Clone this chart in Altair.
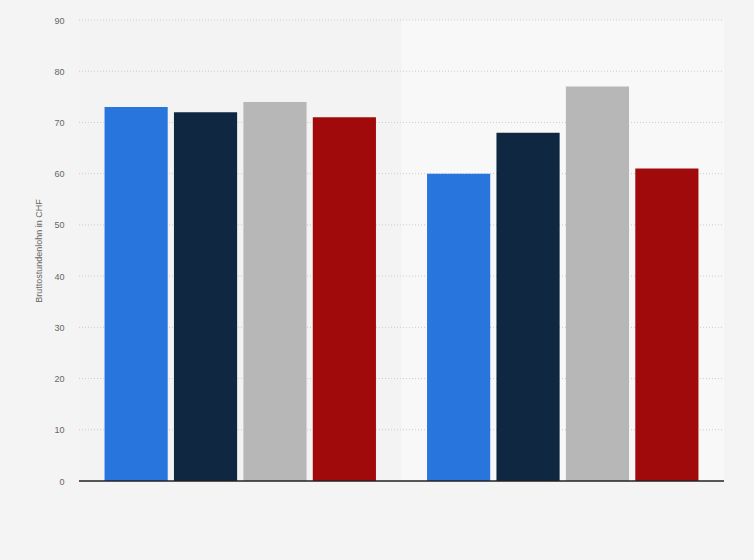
import altair as alt
import pandas as pd
import altair.utils.html as alt_html

groups = ["Gruppe A", "Gruppe B"]
series = ["Serie 1", "Serie 2", "Serie 3", "Serie 4"]
values_a = [73, 72, 74, 71]
values_b = [60, 68, 77, 61]
colors = ["#2876dd", "#0f2740", "#b7b7b7", "#a10a0a"]
band_colors = ["#f3f3f3", "#f8f8f8"]
tick_values = [0, 10, 20, 30, 40, 50, 60, 70, 80, 90]

rows = []
for g, vals in zip(groups, [values_a, values_b]):
    for s, v in zip(series, vals):
        rows.append({"group": g, "series": s, "value": v})
df = pd.DataFrame(rows)
bands = pd.DataFrame({"group": groups, "bg": band_colors})
grid_df = pd.DataFrame({"v": tick_values[1:]})

W, H = 645, 461

xscale = alt.Scale(domain=groups, paddingInner=0, paddingOuter=0)
yscale = alt.Scale(domain=[0, 90], nice=False)

bg = alt.Chart(bands).mark_rect().encode(
    x=alt.X("group:N", scale=xscale, axis=None),
    y=alt.value(0),
    y2=alt.value(H),
    color=alt.Color("bg:N", scale=None, legend=None),
)

grid = alt.Chart(grid_df).mark_rule(color="#cccccc", strokeWidth=1, strokeDash=[1, 2]).encode(
    y=alt.Y("v:Q", scale=yscale),
    x=alt.value(0),
    x2=alt.value(W),
)

bars = alt.Chart(df).mark_bar().encode(
    x=alt.X("group:N", scale=xscale, axis=None),
    xOffset=alt.XOffset("series:N", sort=series,
                        scale=alt.Scale(paddingInner=0.09, paddingOuter=0.368)),
    y=alt.Y("value:Q", scale=yscale,
            axis=alt.Axis(values=tick_values, title="Bruttostundenlohn in CHF",
                          grid=False, domain=False, ticks=False, labelPadding=15,
                          labelColor="#666666", labelFontSize=9, labelFont="Arial",
                          titleColor="#666666", titleFontSize=9, titleFont="Arial",
                          titleFontWeight="normal", titlePadding=10)),
    color=alt.Color("series:N", sort=series,
                    scale=alt.Scale(domain=series, range=colors), legend=None),
)

baseline = alt.Chart(pd.DataFrame({"v": [0]})).mark_rule(color="#222222", strokeWidth=1.5).encode(
    y=alt.Y("v:Q", scale=yscale),
    x=alt.value(0),
    x2=alt.value(W),
)

chart = alt.layer(bg, grid, bars, baseline).properties(
    width=W, height=H,
    background="#f4f4f4",
    padding={"left": 71, "top": 12, "right": 22, "bottom": 71},
    autosize=alt.AutoSizeParams(type="none"),
).configure_view(stroke=None)


class _BgTemplate:
    def __init__(self, base):
        self.base = base

    def render(self, **kw):
        html = self.base.render(**kw)
        return html.replace("<head>", "<head><style>body{background:#f4f4f4;}</style>", 1)


try:
    chart.save("out.html", embed_options={"renderer": "svg", "actions": False},
               template=_BgTemplate(alt_html.TEMPLATES["standard"]))
except Exception:
    chart.save("out.html", embed_options={"renderer": "svg", "actions": False})
